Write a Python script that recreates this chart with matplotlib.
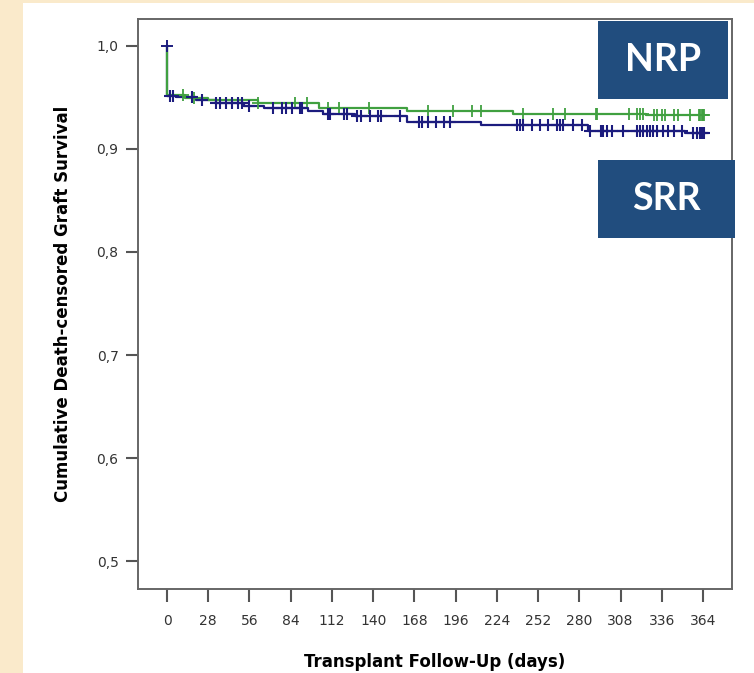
import numpy as np
import matplotlib.pyplot as plt
from matplotlib.patches import Rectangle

# Kaplan-Meier steps: day of each drop and survival after it
nrp_days = [0, 0, 12, 28, 62, 103, 163, 235, 325]
nrp_surv = [1.0, 0.952, 0.9495, 0.947, 0.9447, 0.9396, 0.9366, 0.9337, 0.9328]

srr_days = [0, 0, 6, 20, 33, 52, 66, 96, 106, 128, 163, 213, 286, 352]
srr_surv = [1.0, 0.9516, 0.950, 0.9472, 0.9445, 0.9418, 0.9396, 0.9364,
            0.9335, 0.9315, 0.9256, 0.9227, 0.9178, 0.9150]

# censored observations (days)
nrp_censored = [11, 18, 62, 87, 95, 109, 117, 137, 177, 194, 207, 213, 242,
                262, 270, 291, 292, 314, 319, 321, 323, 331, 333, 336, 338,
                344, 347, 355, 361, 362, 363, 364, 365]
srr_censored = [2, 4, 17, 24, 33, 36, 40, 44, 48, 51, 56, 72, 78, 81, 85, 90,
                92, 109, 111, 120, 122, 129, 132, 138, 143, 145, 158, 171,
                173, 177, 183, 188, 192, 238, 240, 242, 248, 253, 259, 265,
                267, 269, 276, 282, 287, 295, 296, 299, 302, 310, 319, 321,
                323, 326, 328, 330, 333, 337, 340, 344, 350, 357, 360, 362,
                363, 364, 365]
srr_start = (0, 1.0)

follow_up_end = 365
x_ticks = np.arange(0, 365, 28)
y_ticks = [0.5, 0.6, 0.7, 0.8, 0.9, 1.0]

green = '#40a040'
navy = '#1c1c7e'
box_blue = '#214d7e'


def surv_at(days, surv, t):
    idx = np.searchsorted(days, t, side='right') - 1
    return np.asarray(surv)[idx]


fig = plt.figure(figsize=(7.54, 6.73), dpi=100, facecolor='#faeacb')
W, H = 754, 673

# white slide panel
fig.patches.append(Rectangle((23 / W, 0), 1 - 23 / W, 1 - 3 / H,
                             transform=fig.transFigure, facecolor='white',
                             edgecolor='none', zorder=-5))

ax = fig.add_axes([138 / W, 84 / H, 594 / W, 570 / H])
ax.set_zorder(2)
ax.set_xlim(-19.7, 383.7)
ax.set_ylim(0.473, 1.026)

for s in ax.spines.values():
    s.set_color('#666666')
    s.set_linewidth(1.4)

ax.set_xticks(x_ticks)
ax.set_yticks(y_ticks)
ax.set_yticklabels(['{:.1f}'.format(v).replace('.', ',') for v in y_ticks])
ax.tick_params(axis='both', length=9, width=1.5, color='#555555',
               labelcolor='#333333')
ax.tick_params(axis='x', pad=9)
ax.tick_params(axis='y', pad=5)
for lab in ax.get_xticklabels() + ax.get_yticklabels():
    lab.set_family(['Liberation Sans Narrow', 'DejaVu Sans'])
    lab.set_fontsize(10)

# extend the last step out to the end of follow-up
nrp_x = list(nrp_days) + [follow_up_end]
nrp_y = list(nrp_surv) + [nrp_surv[-1]]
srr_x = list(srr_days) + [follow_up_end]
srr_y = list(srr_surv) + [srr_surv[-1]]

ax.step(srr_x, srr_y, where='post', color=navy, lw=1.6, zorder=3)
ax.step(nrp_x, nrp_y, where='post', color=green, lw=1.6, zorder=3)

ax.plot(nrp_censored, surv_at(nrp_days, nrp_surv, nrp_censored), '+',
        color=green, ms=8, mew=1.3, zorder=4)
ax.plot(srr_censored, surv_at(srr_days, srr_surv, srr_censored), '+',
        color=navy, ms=8, mew=1.5, zorder=5)
ax.plot(*srr_start, '+', color=navy, ms=9, mew=1.4, zorder=5)

ax.set_xlabel('Transplant Follow-Up (days)', fontsize=12,
              fontweight='bold', labelpad=18)
ax.set_ylabel('Cumulative Death-censored Graft Survival', fontsize=12,
              fontweight='bold', labelpad=18)

# group labels
for (x0, y0, x1, y1), name in [((598, 21, 728, 99), 'NRP'),
                               ((598, 160, 735, 238), 'SRR')]:
    fig.patches.append(Rectangle((x0 / W, 1 - y1 / H), (x1 - x0) / W,
                                 (y1 - y0) / H, transform=fig.transFigure,
                                 facecolor=box_blue, edgecolor='none',
                                 zorder=10))
    fig.text((x0 + x1) / 2 / W, 1 - (y0 + y1) / 2 / H, name, color='white',
             fontsize=27, fontweight='bold', family='Lato',
             ha='center', va='center', zorder=11)

fig.savefig('out.png', dpi=100, facecolor=fig.get_facecolor())
